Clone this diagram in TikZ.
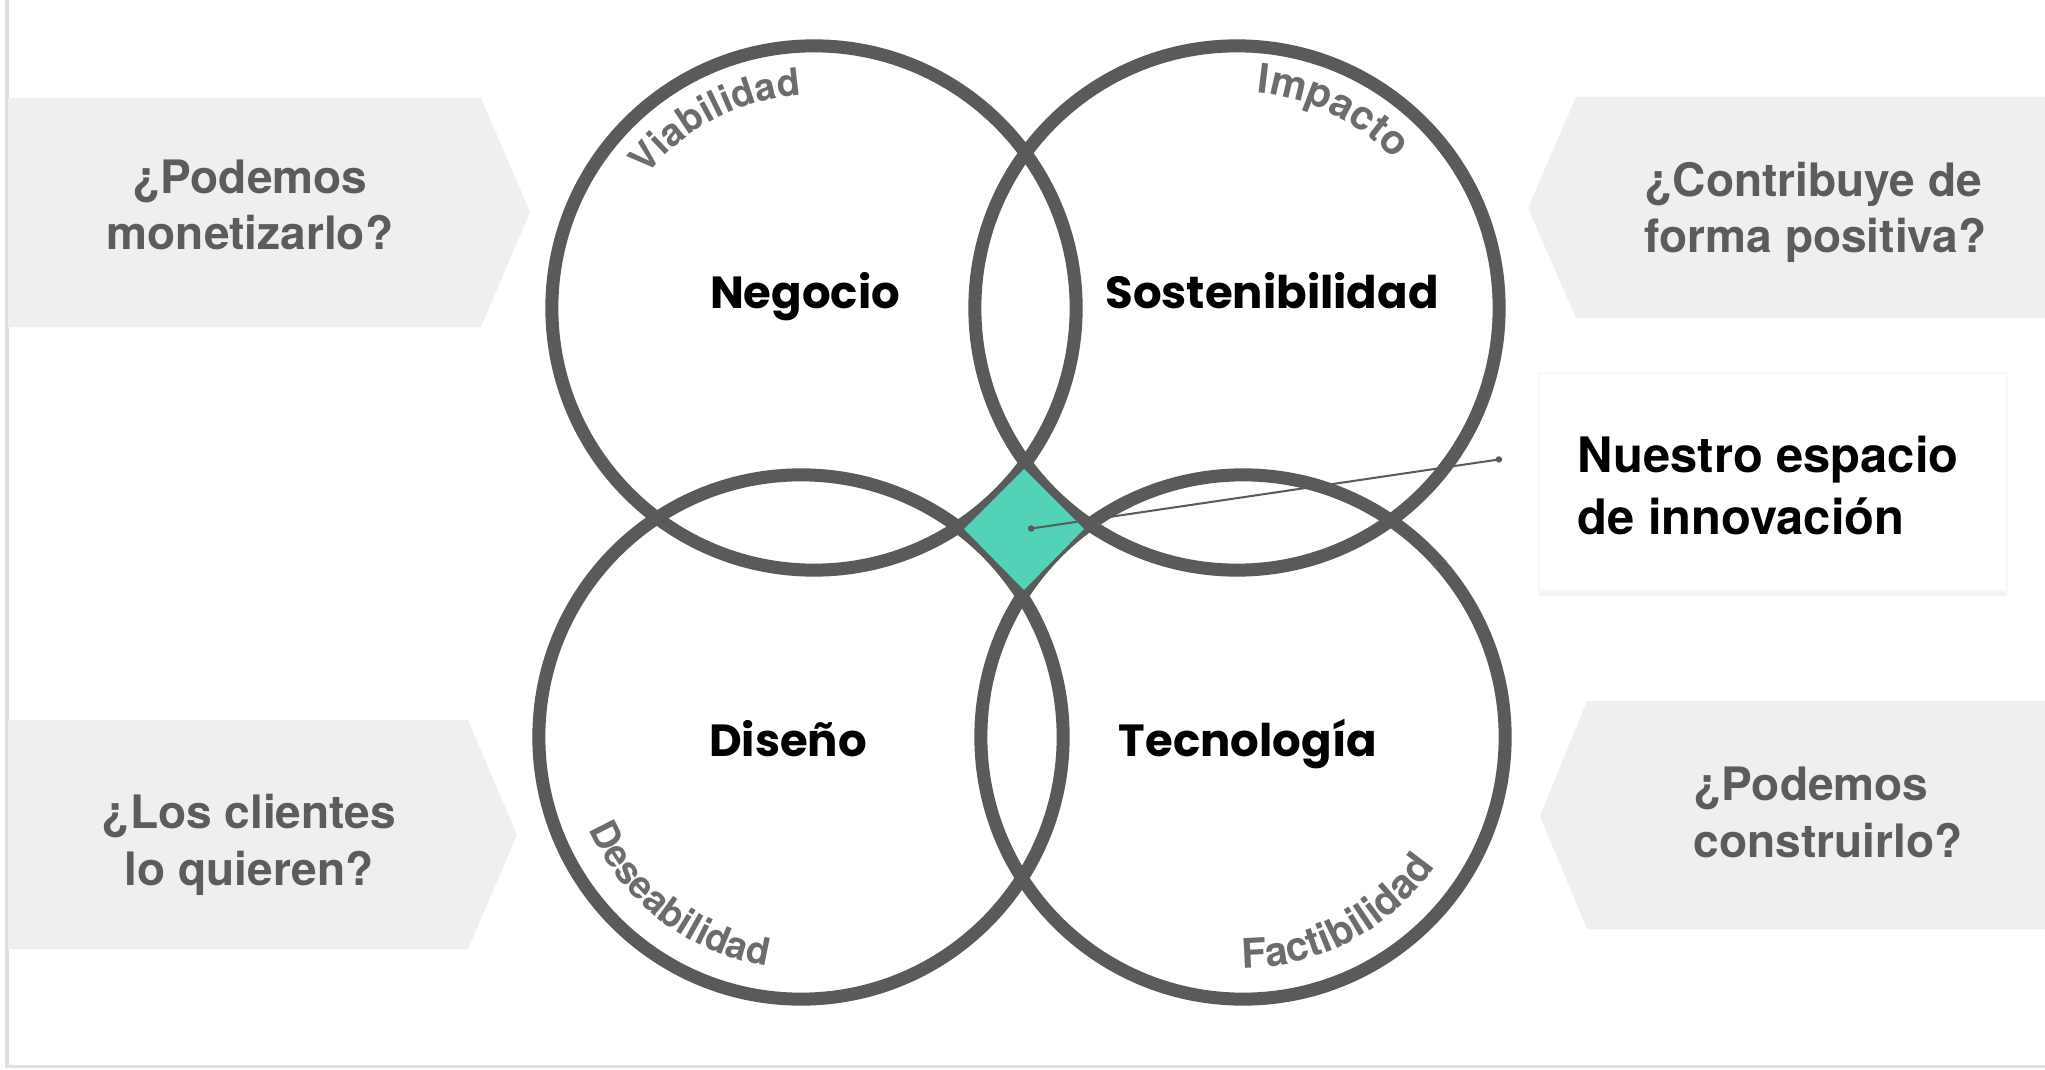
\documentclass[tikz,border=0pt]{standalone}
\usepackage{fontspec}
\setmainfont{TeX Gyre Heros}
\newfontfamily\popfont{Poppins}
\usetikzlibrary{decorations.text,shadows,arrows.meta}

\definecolor{ringgrey}{HTML}{5A5A5A}
\definecolor{boxgrey}{HTML}{EFEFEF}
\definecolor{asktext}{HTML}{5C5C5C}
\definecolor{arclabel}{HTML}{6E6B6B}
\definecolor{espaciogreen}{HTML}{52D3B8}

\newcommand\arcfont{\fontsize{10.8}{13}\selectfont\bfseries}
\newcommand\arcbig{\fontsize{11.6}{14}\selectfont\bfseries}

\tikzset{
  askbox/.style={fill=boxgrey},
  asklabel/.style={inner sep=0pt, text=asktext, align=#1,
    font=\fontsize{13.1}{16.2}\selectfont\bfseries},
  ring/.style={draw=ringgrey, line width=0.13cm},
  area/.style={inner sep=0pt, font=\popfont\fontsize{12.8}{15}\selectfont\bfseries},
  arclbl/.style={decorate, decoration={text along path, text align=center,
    text color=arclabel, text={#1}}},
  pointer/.style={draw=ringgrey, line width=0.02cm,
    {Circle[length=1.8pt]}-{Circle[length=1.8pt]}},
  notebox/.style={fill=white, draw=black!3, line width=0.02cm,
    minimum width=4.68cm, minimum height=2.18cm, inner sep=0pt,
    drop shadow={shadow xshift=0pt, shadow yshift=-1.3pt, fill=black!9}},
}

\begin{document}
\begin{tikzpicture}[x=0.01cm,y=-0.01cm]
\useasboundingbox (0,0) rectangle (2045,1070);
\fill[white] (0,0) rectangle (2045,1070);
\draw[black!12, line width=0.03cm] (7,-5) -- (7,1066) -- (2060,1066);

% question boxes, left side
\fill[askbox] (8,98) -- (481,98) -- (530,212) -- (481,327) -- (8,327) -- cycle;
\node[asklabel=center, anchor=base] (qmoney) at (250,250) {¿Podemos\\monetizarlo?};

\fill[askbox] (8,720) -- (468,720) -- (517,835) -- (468,949) -- (8,949) -- cycle;
\node[asklabel=center, anchor=base] (qwant) at (249,885) {¿Los clientes\\lo quieren?};

% question boxes, right side
\fill[askbox] (2045,97) -- (1576,97) -- (1528,208) -- (1576,318) -- (2045,318) -- cycle;
\node[asklabel=left, anchor=base west] (qgood) at (1644,253) {¿Contribuye de\\forma positiva?};

\fill[askbox] (2045,701) -- (1587,701) -- (1540,816) -- (1587,929) -- (2045,929) -- cycle;
\node[asklabel=left, anchor=base west] (qbuild) at (1693,857) {¿Podemos\\construirlo?};

% circle centres
\coordinate (cneg) at (814,308);
\coordinate (csos) at (1237,308);
\coordinate (cdis) at (801,737);
\coordinate (ctec) at (1243,737);

\foreach \c in {cneg,csos,cdis,ctec}
  \fill[white] (\c) circle[radius=2.62cm];

\coordinate (espacio) at (1028,529);
\coordinate (nota) at (1502,459);
\draw[pointer] (espacio) -- (nota);

\foreach \c in {cneg,csos,cdis,ctec}
  \draw[ring] (\c) circle[radius=2.62cm];

% the space in the middle
\fill[espaciogreen] (1024,469) -- (1084,529) -- (1024,590) -- (964,529) -- cycle;
\begin{scope}
  \clip (1024,469) -- (1084,529) -- (1024,590) -- (964,529) -- cycle;
  \draw[pointer] (espacio) -- (nota);
\end{scope}

% curved labels
\path[arclbl={|\arcfont|Viabilidad}] (cneg) ++(160:2.13cm) arc[start angle=160, end angle=75, radius=2.13cm];
\path[arclbl={|\arcbig|Impacto}] (csos) ++(104:2.16cm) arc[start angle=104, end angle=24, radius=2.16cm];
\path[arclbl={|\arcfont|Deseabilidad}] (cdis) ++(192:2.31cm) arc[start angle=192, end angle=273, radius=2.31cm];
\path[arclbl={|\arcbig|Factibilidad}] (ctec) ++(256:2.31cm) arc[start angle=256, end angle=340, radius=2.31cm];

% circle names
\node[area, anchor=base] (negocio) at (805,308) {Negocio};
\node[area, anchor=base] (sosten) at (1272,308) {Sostenibilidad};
\node[area, anchor=base] (diseno) at (788,756) {Diseño};
\node[area, anchor=base] (tecno) at (1248,756) {Tecnología};

% note box
\node[notebox] (espbox) at (1773,482) {};
\node[inner sep=0pt, anchor=base west, align=left,
  font=\fontsize{13.9}{17.4}\selectfont\bfseries] (esptext) at (1577,534) {Nuestro espacio\\de innovación};

\end{tikzpicture}
\end{document}
